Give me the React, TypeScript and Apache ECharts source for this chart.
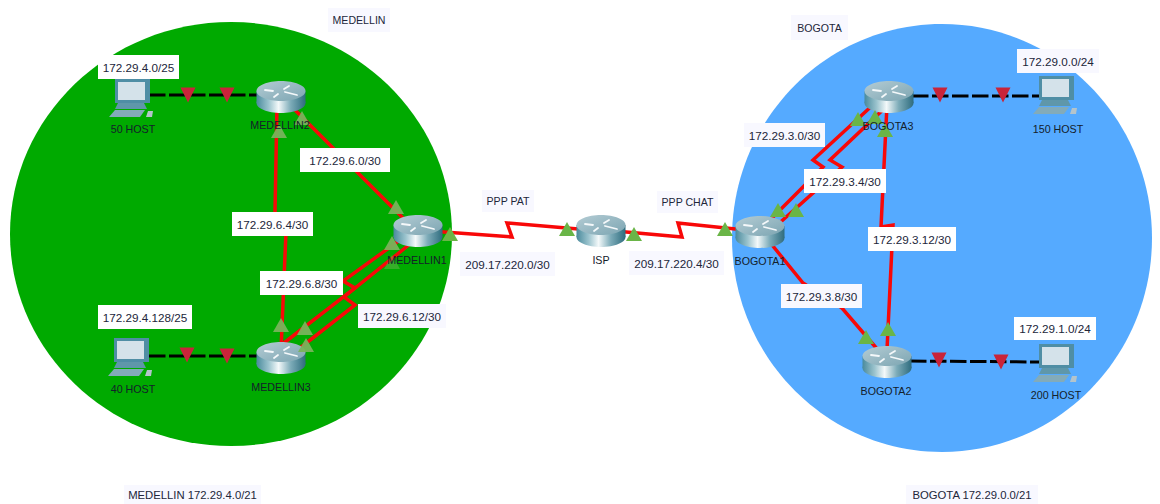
import React, { useEffect, useRef } from "react";
import * as echarts from "echarts";

type Pt = [number, number];

const WIDTH = 1160;
const HEIGHT = 504;

const zones = [
  { name: "MEDELLIN", cx: 231, cy: 234, rx: 221, ry: 212, color: "#00aa00" },
  { name: "BOGOTA", cx: 942, cy: 238, rx: 210, ry: 214, color: "#55aaff" },
];

const routers: Pt[] = [
  [281, 97], [418, 231], [281, 358], [601, 231], [760, 232], [889, 97], [887, 362],
];

const hosts: Pt[] = [
  [132, 98], [131, 357], [1056, 95], [1056, 363],
];

const redLinks: Pt[][] = [
  [[290, 105], [410, 225]],
  [[277, 105], [275, 212], [286, 232], [281, 350]],
  [[400, 240], [343, 281], [355, 288], [280, 346]],
  [[415, 240], [344, 297], [355, 305], [300, 348]],
  [[430, 231], [512, 237], [507, 223], [590, 230]],
  [[615, 231], [682, 237], [678, 223], [745, 230]],
  [[765, 225], [823, 167], [813, 160], [875, 103]],
  [[775, 227], [842, 167], [830, 160], [888, 105]],
  [[887, 105], [881, 227], [893, 225], [887, 350]],
  [[768, 240], [803, 283], [842, 308], [878, 350]],
];

const blackLinks: Pt[][] = [
  [[149, 95], [262, 95]],
  [[149, 356], [258, 356]],
  [[912, 96], [1040, 96]],
  [[910, 361], [1040, 362]],
];

const redMarks: Pt[] = [
  [188, 95], [227, 95], [187, 355], [227, 356], [940, 95], [1003, 95], [939, 360], [1001, 362],
];

const greenMarks: Pt[] = [
  [567, 229], [634, 234], [725, 229], [858, 119], [875, 117], [885, 130],
  [778, 210], [796, 210], [866, 337], [888, 329], [450, 234],
];

const paleGreenMarks: Pt[] = [
  [279, 131], [302, 118], [396, 207], [392, 243], [281, 325], [305, 328], [306, 345],
];

const fadedGreenMarks: Pt[] = [[392, 262]];

const boxes = [
  { text: "172.29.4.0/25", x0: 98, x1: 179, y0: 55, y1: 79, fill: "#ffffff" },
  { text: "172.29.6.0/30", x0: 300, x1: 390, y0: 148, y1: 172, fill: "#ffffff" },
  { text: "172.29.6.4/30", x0: 232, x1: 313, y0: 212, y1: 236, fill: "#ffffff" },
  { text: "172.29.6.8/30", x0: 260, x1: 343, y0: 271, y1: 295, fill: "#ffffff" },
  { text: "172.29.6.12/30", x0: 358, x1: 446, y0: 304, y1: 328, fill: "#f8f8ff" },
  { text: "172.29.4.128/25", x0: 98, x1: 192, y0: 305, y1: 329, fill: "#ffffff" },
  { text: "PPP PAT", x0: 482, x1: 534, y0: 190, y1: 212, fill: "#f8f8ff" },
  { text: "209.17.220.0/30", x0: 460, x1: 555, y0: 252, y1: 276, fill: "#f8f8ff" },
  { text: "PPP CHAT", x0: 657, x1: 718, y0: 191, y1: 213, fill: "#f8f8ff" },
  { text: "209.17.220.4/30", x0: 629, x1: 724, y0: 251, y1: 275, fill: "#f8f8ff" },
  { text: "172.29.3.0/30", x0: 744, x1: 825, y0: 123, y1: 147, fill: "#f8f8ff" },
  { text: "172.29.3.4/30", x0: 804, x1: 886, y0: 169, y1: 193, fill: "#ffffff" },
  { text: "172.29.3.12/30", x0: 868, x1: 956, y0: 227, y1: 251, fill: "#ffffff" },
  { text: "172.29.3.8/30", x0: 781, x1: 862, y0: 284, y1: 308, fill: "#f8f8ff" },
  { text: "172.29.1.0/24", x0: 1014, x1: 1096, y0: 317, y1: 340, fill: "#ffffff" },
  { text: "172.29.0.0/24", x0: 1017, x1: 1099, y0: 49, y1: 73, fill: "#f8f8ff" },
  { text: "MEDELLIN", x0: 328, x1: 390, y0: 8, y1: 32, fill: "#f8f8ff" },
  { text: "BOGOTA", x0: 791, x1: 848, y0: 15, y1: 40, fill: "#f8f8ff" },
  { text: "MEDELLIN 172.29.4.0/21", x0: 124, x1: 261, y0: 485, y1: 504, fill: "#f8f8ff" },
  { text: "BOGOTA 172.29.0.0/21", x0: 906, x1: 1038, y0: 485, y1: 504, fill: "#f8f8ff" },
];

const deviceNames = [
  { text: "MEDELLIN2", x: 280, y: 125 },
  { text: "MEDELLIN1", x: 417, y: 260 },
  { text: "MEDELLIN3", x: 281, y: 387 },
  { text: "ISP", x: 601, y: 260 },
  { text: "BOGOTA1", x: 760, y: 261 },
  { text: "BOGOTA3", x: 888, y: 126 },
  { text: "BOGOTA2", x: 886, y: 391 },
  { text: "50 HOST", x: 133, y: 129 },
  { text: "40 HOST", x: 133, y: 389 },
  { text: "150 HOST", x: 1058, y: 129 },
  { text: "200 HOST", x: 1056, y: 395 },
];

const FONT = '"Liberation Sans", Arial, sans-serif';

function boxFontSize(text: string) {
  const hasDigit = /\d/.test(text);
  const hasLetters = /[A-Z]/.test(text);
  if (hasDigit && hasLetters) return 11.3;
  return hasDigit ? 11.7 : 10.6;
}

function renderZone(_: any, api: any) {
  const z = zones[api.value(0)];
  const c = api.coord([z.cx, z.cy]);
  return {
    type: "ellipse",
    shape: { cx: c[0], cy: c[1], rx: z.rx, ry: z.ry },
    style: { fill: z.color },
  };
}

function arrow(x1: number, y1: number, x2: number, y2: number) {
  return {
    type: "line",
    shape: { x1, y1, x2, y2 },
    style: { stroke: "#f4f8fa", lineWidth: 1.8, lineCap: "round" },
  };
}

function renderRouter(_: any, api: any) {
  const c = api.coord([api.value(0), api.value(1)]);
  const body = new echarts.graphic.LinearGradient(0, 0, 1, 0, [
    { offset: 0, color: "#4a8a9c" },
    { offset: 0.25, color: "#9cc4ce" },
    { offset: 0.45, color: "#f4f9fa" },
    { offset: 0.7, color: "#7cabb8" },
    { offset: 1, color: "#2f6c7e" },
  ]);
  const top = new echarts.graphic.LinearGradient(0, 0, 1, 1, [
    { offset: 0, color: "#b4ccd4" },
    { offset: 1, color: "#7ca5b2" },
  ]);
  return {
    type: "group",
    x: c[0],
    y: c[1],
    children: [
      { type: "ellipse", shape: { cx: 0, cy: 6, rx: 24.5, ry: 10 }, style: { fill: body } },
      { type: "rect", shape: { x: -24.5, y: -6, width: 49, height: 12 }, style: { fill: body } },
      { type: "ellipse", shape: { cx: 0, cy: -6, rx: 24.5, ry: 10 }, style: { fill: top } },
      arrow(-16, -7, -8, -6),
      arrow(-3, -3, -7, 0),
      arrow(3, -8, 8, -11),
      arrow(4, -5, 16, -2),
    ],
  };
}

function renderHost(_: any, api: any) {
  const c = api.coord([api.value(0), api.value(1)]);
  return {
    type: "group",
    x: c[0],
    y: c[1],
    children: [
      { type: "rect", shape: { x: -17, y: -19, width: 35, height: 24 }, style: { fill: "#4f8ea5" } },
      { type: "rect", shape: { x: -14, y: -16, width: 27, height: 18 }, style: { fill: "#d4e2ea" } },
      { type: "polygon", shape: { points: [[-14, 5], [12, 5], [15, 11], [-17, 11]] }, style: { fill: "#5f97aa" } },
      { type: "polygon", shape: { points: [[-17, 12], [13, 12], [8, 19], [-23, 19]] }, style: { fill: "#83abb9" } },
      { type: "polygon", shape: { points: [[16, 13], [21, 13], [20, 19], [14, 19]] }, style: { fill: "#b4c4cb" } },
    ],
  };
}

function renderBox(_: any, api: any) {
  const b = boxes[api.value(0)];
  const a = api.coord([b.x0, b.y0]);
  const d = api.coord([b.x1, b.y1]);
  return {
    type: "group",
    children: [
      {
        type: "rect",
        shape: { x: a[0], y: a[1], width: d[0] - a[0], height: d[1] - a[1] },
        style: { fill: b.fill },
      },
      {
        type: "text",
        x: (a[0] + d[0]) / 2,
        y: (a[1] + d[1]) / 2,
        style: {
          text: b.text,
          fill: "#22263a",
          font: `${boxFontSize(b.text)}px ${FONT}`,
          align: "center",
          verticalAlign: "middle",
        },
      },
    ],
  };
}

function renderName(_: any, api: any) {
  const n = deviceNames[api.value(0)];
  const c = api.coord([n.x, n.y]);
  return {
    type: "text",
    x: c[0],
    y: c[1],
    style: {
      text: n.text,
      fill: "#14202a",
      font: `10.7px ${FONT}`,
      align: "center",
      verticalAlign: "middle",
    },
  };
}

const indexData = (list: unknown[]) => list.map((_, i) => [i]);
const asLines = (links: Pt[][]) => links.map((coords) => ({ coords }));

function triangles(points: Pt[], color: string, opacity: number, rotate: number, z: number) {
  return {
    type: "scatter",
    data: points,
    symbol: "triangle",
    symbolSize: rotate ? [15, 15] : [16, 14],
    symbolRotate: rotate,
    itemStyle: { color, opacity },
    silent: true,
    z,
  };
}

export default function App() {
  const ref = useRef<HTMLDivElement>(null);

  useEffect(() => {
    document.body.style.margin = "0";
    const chart = echarts.init(ref.current!, undefined, { renderer: "svg" });
    chart.setOption({
      animation: false,
      tooltip: { show: false },
      grid: { left: 0, right: 0, top: 0, bottom: 0 },
      xAxis: { type: "value", min: 0, max: WIDTH, show: false },
      yAxis: { type: "value", min: 0, max: HEIGHT, inverse: true, show: false },
      series: [
        { type: "custom", renderItem: renderZone, data: indexData(zones), clip: false, silent: true, z: 1 },
        {
          type: "lines",
          coordinateSystem: "cartesian2d",
          polyline: true,
          data: asLines(redLinks),
          lineStyle: { color: "#f80808", width: 3.5, opacity: 1 },
          silent: true,
          z: 2,
        },
        {
          type: "lines",
          coordinateSystem: "cartesian2d",
          polyline: true,
          data: asLines(blackLinks),
          lineStyle: { color: "#000000", width: 3, opacity: 1, type: [16.5, 3.5] },
          silent: true,
          z: 2,
        },
        { type: "custom", renderItem: renderRouter, data: routers, clip: false, silent: true, z: 3 },
        { type: "custom", renderItem: renderHost, data: hosts, clip: false, silent: true, z: 3 },
        triangles(redMarks, "#c9243a", 1, 180, 4),
        triangles(greenMarks, "#6ab547", 1, 0, 4),
        triangles(paleGreenMarks, "#78b35c", 0.95, 0, 4),
        triangles(fadedGreenMarks, "#78b35c", 0.45, 0, 4),
        { type: "custom", renderItem: renderBox, data: indexData(boxes), clip: false, silent: true, z: 5 },
        { type: "custom", renderItem: renderName, data: indexData(deviceNames), clip: false, silent: true, z: 6 },
      ],
    });
    return () => chart.dispose();
  }, []);

  return <div ref={ref} style={{ width: WIDTH, height: HEIGHT, background: "#ffffff" }} />;
}
